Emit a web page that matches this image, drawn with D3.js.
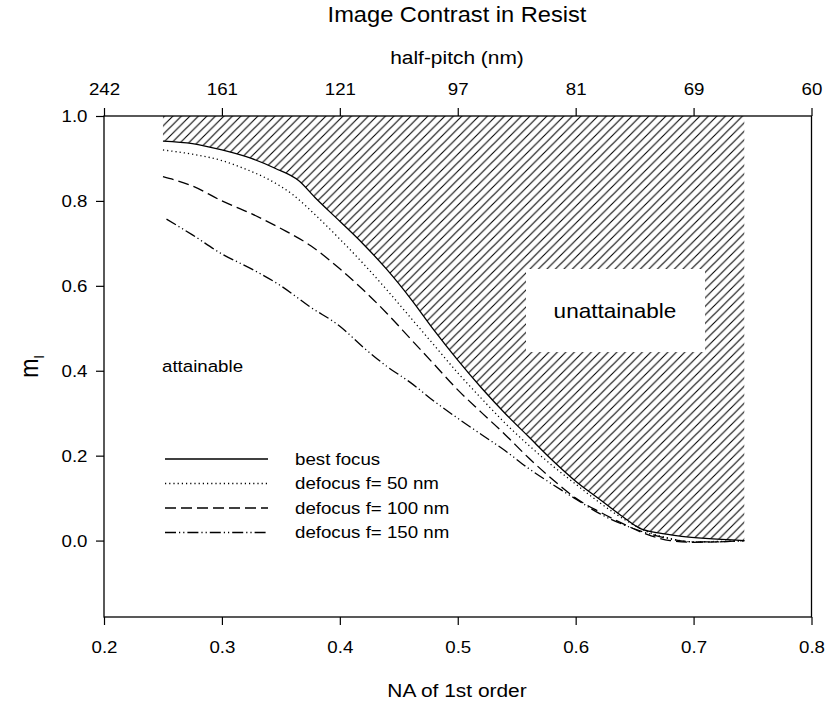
<!DOCTYPE html>
<html>
<head>
<meta charset="utf-8">
<script src="https://cdn.jsdelivr.net/npm/d3@7"></script>
<style>
  html, body { margin: 0; padding: 0; background: #fff; }
  svg { display: block; }
  text { font-family: "Liberation Sans", Arial, sans-serif; fill: #000; }
</style>
</head>
<body>
<svg id="chart" width="827" height="703"></svg>
<script>
// ---- data ----
const naTicks = [0.2, 0.3, 0.4, 0.5, 0.6, 0.7, 0.8];
const halfPitchLabels = ["242", "161", "121", "97", "81", "69", "60"];
const mTicks = [0.0, 0.2, 0.4, 0.6, 0.8, 1.0];

const bestFocusNA = [0.25, 0.275, 0.30, 0.325, 0.345, 0.365, 0.38, 0.40, 0.42, 0.44, 0.46, 0.48, 0.50, 0.52, 0.54, 0.56, 0.58, 0.60, 0.62, 0.64, 0.655, 0.67, 0.69, 0.71, 0.743];
const bestFocusM  = [0.941, 0.935, 0.92, 0.90, 0.877, 0.848, 0.805, 0.752, 0.698, 0.638, 0.57, 0.495, 0.425, 0.36, 0.30, 0.245, 0.19, 0.14, 0.098, 0.056, 0.028, 0.018, 0.01, 0.005, 0.0];

const defocus50NA = [0.25, 0.275, 0.30, 0.32, 0.34, 0.36, 0.38, 0.40, 0.42, 0.44, 0.46, 0.48, 0.50, 0.52, 0.54, 0.56, 0.58, 0.60, 0.62, 0.64, 0.66, 0.68, 0.70, 0.72, 0.743];
const defocus50M  = [0.92, 0.91, 0.895, 0.875, 0.85, 0.815, 0.765, 0.71, 0.652, 0.59, 0.525, 0.46, 0.395, 0.335, 0.277, 0.225, 0.177, 0.133, 0.09, 0.052, 0.022, 0.005, -0.003, -0.002, 0.0];

const defocus100NA = [0.25, 0.275, 0.30, 0.325, 0.35, 0.375, 0.40, 0.42, 0.44, 0.46, 0.48, 0.50, 0.52, 0.54, 0.56, 0.58, 0.60, 0.62, 0.64, 0.66, 0.68, 0.70, 0.72, 0.743];
const defocus100M  = [0.857, 0.835, 0.80, 0.77, 0.735, 0.695, 0.64, 0.59, 0.535, 0.475, 0.415, 0.355, 0.302, 0.25, 0.195, 0.145, 0.10, 0.068, 0.04, 0.015, 0.0, -0.004, -0.003, 0.0];

const defocus150NA = [0.253, 0.275, 0.30, 0.325, 0.35, 0.375, 0.40, 0.42, 0.44, 0.46, 0.48, 0.50, 0.52, 0.54, 0.56, 0.58, 0.60, 0.62, 0.64, 0.66, 0.68, 0.70, 0.72, 0.743];
const defocus150M  = [0.757, 0.72, 0.675, 0.64, 0.60, 0.55, 0.505, 0.455, 0.41, 0.372, 0.328, 0.288, 0.25, 0.212, 0.17, 0.133, 0.098, 0.064, 0.038, 0.018, 0.004, -0.003, -0.003, 0.0];

const seriesNames = ["best focus", "defocus f= 50 nm", "defocus f= 100 nm", "defocus f= 150 nm"];
const seriesDash = [null, "1.2,3", "11,5", "11,3,1.2,3,1.2,3"];

// ---- layout ----
const svg = d3.select("#chart");
const pLeft = 104, pRight = 811.5, pTop = 116, pBottom = 617;
const SX = 1.1;

const x = d3.scaleLinear().domain([0.2, 0.8]).range([pLeft, pRight]);
const y = d3.scaleLinear().domain([-0.18, 1.0]).range([pBottom, pTop]);

const series = [
  bestFocusNA.map((n, i) => [n, bestFocusM[i]]),
  defocus50NA.map((n, i) => [n, defocus50M[i]]),
  defocus100NA.map((n, i) => [n, defocus100M[i]]),
  defocus150NA.map((n, i) => [n, defocus150M[i]])
];

// hatch pattern
const defs = svg.append("defs");
const hp = 8.5;
const pat = defs.append("pattern")
  .attr("id", "hatch").attr("patternUnits", "userSpaceOnUse")
  .attr("width", hp).attr("height", hp);
pat.append("path")
  .attr("d", `M0,${hp} L${hp},0 M${-hp/2},${hp/2} L${hp/2},${-hp/2} M${hp/2},${hp*1.5} L${hp*1.5},${hp/2}`)
  .attr("stroke", "#000").attr("stroke-width", 1.1);

// unattainable region
const bf = series[0];
const areaGen = d3.area()
  .x(d => x(d[0])).y0(y(1.0)).y1(d => y(d[1]))
  .curve(d3.curveMonotoneX);
svg.append("path").datum(bf).attr("d", areaGen).attr("fill", "url(#hatch)");

// white box label
svg.append("rect").attr("x", 526).attr("y", 269).attr("width", 179).attr("height", 83).attr("fill", "#fff");
svg.append("text")
  .attr("transform", `translate(615,311) scale(${SX},1)`)
  .attr("text-anchor", "middle").attr("dy", "0.35em")
  .style("font-size", "20.5px").text("unattainable");

svg.append("text")
  .attr("transform", `translate(162,366) scale(${SX},1)`)
  .attr("dy", "0.35em")
  .style("font-size", "17px").text("attainable");

// curves
const line = d3.line().x(d => x(d[0])).y(d => y(d[1])).curve(d3.curveMonotoneX);
series.forEach((s, i) => {
  svg.append("path").datum(s).attr("d", line)
    .attr("fill", "none").attr("stroke", "#000").attr("stroke-width", 1.3)
    .attr("stroke-dasharray", seriesDash[i]);
});

// frame
svg.append("rect").attr("x", pLeft).attr("y", pTop).attr("width", pRight - pLeft).attr("height", pBottom - pTop)
  .attr("fill", "none").attr("stroke", "#000").attr("stroke-width", 1.3);

// axes
function styleAxis(g) {
  g.select(".domain").remove();
  g.selectAll(".tick line").attr("stroke", "#000").attr("stroke-width", 1.2);
  g.selectAll(".tick text").style("font-size", "17px")
    .style("font-family", '"Liberation Sans", Arial, sans-serif')
    .attr("transform", `scale(${SX},1)`);
}

svg.append("g").attr("transform", `translate(0,${pBottom})`)
  .call(d3.axisBottom(x).tickValues(naTicks).tickSize(8).tickPadding(16).tickFormat(d3.format(".1f")))
  .call(styleAxis);

svg.append("g").attr("transform", `translate(${pLeft},0)`)
  .call(d3.axisLeft(y).tickValues(mTicks).tickSize(8).tickPadding(7).tickFormat(d3.format(".1f")))
  .call(styleAxis);

svg.append("g").attr("transform", `translate(0,${pTop})`)
  .call(d3.axisTop(x).tickValues(naTicks).tickSize(8).tickPadding(13)
    .tickFormat((d, i) => halfPitchLabels[i]))
  .call(styleAxis);

// legend
const legY0 = 459, legStep = 24.5;
seriesNames.forEach((name, i) => {
  const yy = legY0 + i * legStep;
  svg.append("line").attr("x1", 165).attr("x2", 268).attr("y1", yy).attr("y2", yy)
    .attr("stroke", "#000").attr("stroke-width", 1.3).attr("stroke-dasharray", seriesDash[i]);
  svg.append("text")
    .attr("transform", `translate(295,${yy}) scale(${SX},1)`)
    .attr("dy", "0.35em").style("font-size", "17px").text(name);
});

// titles
svg.append("text").attr("transform", `translate(457,22) scale(${SX},1)`)
  .attr("text-anchor", "middle").style("font-size", "21.5px").text("Image Contrast in Resist");
svg.append("text").attr("transform", `translate(457,64) scale(${SX},1)`)
  .attr("text-anchor", "middle").style("font-size", "19px").text("half-pitch (nm)");
svg.append("text").attr("transform", `translate(457,697) scale(${SX},1)`)
  .attr("text-anchor", "middle").style("font-size", "19px").text("NA of 1st order");

const yl = svg.append("text")
  .attr("transform", `translate(38,${(pTop + pBottom) / 2}) rotate(-90) scale(1,${SX})`)
  .attr("text-anchor", "middle").style("font-size", "23px");
yl.append("tspan").text("m");
yl.append("tspan").attr("dy", "5").style("font-size", "13px").text("I");
</script>
</body>
</html>
